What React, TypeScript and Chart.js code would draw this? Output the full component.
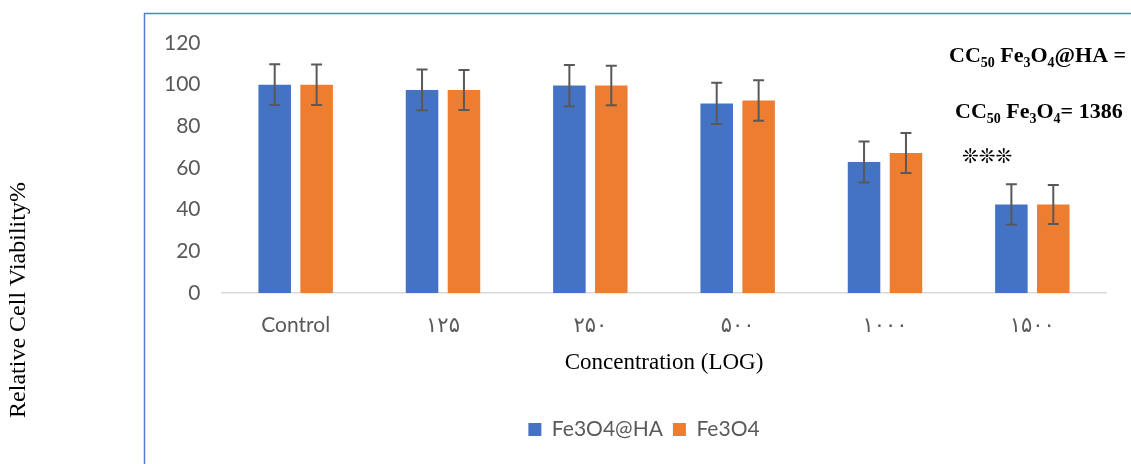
import React, { useEffect, useRef } from "react";
import { Chart, registerables } from "chart.js";

Chart.register(...registerables);

const categories = ["Control", "۱۲۵", "۲۵۰", "۵۰۰", "۱۰۰۰", "۱۵۰۰"];
const seriesNames = ["Fe3O4@HA", "Fe3O4"];
const fe3o4HA = [100, 97.5, 99.6, 91.0, 62.9, 42.5];
const fe3o4HAErr = [9.8, 9.8, 9.9, 9.9, 9.8, 9.7];
const fe3o4 = [100, 97.4, 99.6, 92.4, 67.2, 42.5];
const fe3o4Err = [9.7, 9.6, 9.5, 9.7, 9.6, 9.4];
const yMin = 0;
const yMax = 120;
const yStep = 20;
const xTitle = "Concentration (LOG)";
const yTitle = "Relative Cell Viability%";
const note1: [string, boolean][] = [["CC", false], ["50", true], [" Fe", false], ["3", true], ["O", false], ["4", true], ["@HA =", false]];
const note2: [string, boolean][] = [["CC", false], ["50", true], [" Fe", false], ["3", true], ["O", false], ["4", true], ["= 1386", false]];
const note3 = "❊❊❊";

const colors = ["#4472C4", "#ED7D31"];
const errors = [fe3o4HAErr, fe3o4Err];
const GRAY = "#595959";
const SANS = "Lato, 'DejaVu Sans', sans-serif";
const SERIF = "'Liberation Serif', 'Times New Roman', serif";

function drawRuns(ctx: CanvasRenderingContext2D, runs: [string, boolean][], x: number, y: number) {
  let cx = x;
  for (const [t, sub] of runs) {
    ctx.font = sub ? `bold 14px ${SERIF}` : `bold 22px ${SERIF}`;
    ctx.fillText(t, cx, sub ? y + 5 : y);
    cx += ctx.measureText(t).width;
  }
}

const decorPlugin = {
  id: "decor",
  beforeDraw(chart: any) {
    const ctx = chart.ctx;
    ctx.save();
    ctx.strokeStyle = "#4F7FD1";
    ctx.lineWidth = 1.5;
    ctx.strokeRect(144.5, 13.5, 2000, 2000);
    ctx.restore();
  },
  afterDatasetsDraw(chart: any) {
    const ctx = chart.ctx;
    const yScale = chart.scales.y;
    ctx.save();
    ctx.strokeStyle = GRAY;
    ctx.lineWidth = 2;
    chart.data.datasets.forEach((ds: any, i: number) => {
      const meta = chart.getDatasetMeta(i);
      meta.data.forEach((el: any, j: number) => {
        const v = ds.data[j];
        const e = errors[i][j];
        const x = el.x;
        const yt = yScale.getPixelForValue(v + e);
        const yb = yScale.getPixelForValue(v - e);
        ctx.beginPath();
        ctx.moveTo(x, yt);
        ctx.lineTo(x, yb);
        ctx.moveTo(x - 5.5, yt);
        ctx.lineTo(x + 5.5, yt);
        ctx.moveTo(x - 5.5, yb);
        ctx.lineTo(x + 5.5, yb);
        ctx.stroke();
      });
    });
    ctx.restore();
  },
  afterDraw(chart: any) {
    const ctx = chart.ctx;
    ctx.save();
    ctx.fillStyle = "#000";
    ctx.textBaseline = "alphabetic";
    ctx.textAlign = "left";
    drawRuns(ctx, note1, 949, 62);
    drawRuns(ctx, note2, 955, 118);
    ctx.font = `20px 'DejaVu Sans', sans-serif`;
    ctx.textBaseline = "middle";
    ctx.fillText(note3, 962, 158);
    // y title
    ctx.translate(19, 300);
    ctx.rotate(-Math.PI / 2);
    ctx.textAlign = "center";
    ctx.textBaseline = "middle";
    ctx.font = `24px ${SERIF}`;
    ctx.fillText(yTitle, 0, 0);
    ctx.restore();
  },
};

export default function App() {
  const ref = useRef<HTMLCanvasElement>(null);
  useEffect(() => {
    if (!ref.current) return;
    const chart = new Chart(ref.current, {
      type: "bar",
      data: {
        labels: categories,
        datasets: [
          { label: seriesNames[0], data: fe3o4HA, backgroundColor: colors[0], categoryPercentage: 0.569, barPercentage: 0.776 },
          { label: seriesNames[1], data: fe3o4, backgroundColor: colors[1], categoryPercentage: 0.569, barPercentage: 0.776 },
        ],
      },
      options: {
        responsive: false,
        animation: false,
        layout: { padding: { left: 182, right: 25, top: 43, bottom: 14 } },
        plugins: {
          legend: {
            position: "bottom",
            labels: {
              boxWidth: 13,
              boxHeight: 13,
              padding: 10,
              color: GRAY,
              font: { family: SANS, size: 21 },
            },
          },
          tooltip: { enabled: false },
        },
        scales: {
          x: {
            grid: { display: false, drawTicks: false },
            border: { display: true, color: "#D9D9D9", width: 1.5 },
            ticks: { color: GRAY, padding: 20, font: { family: SANS, size: 21 } },
            title: {
              display: true,
              text: xTitle,
              color: "#000",
              font: { family: SERIF, size: 23 },
              padding: { top: 0, bottom: 32 },
            },
            afterFit: (s: any) => { s.height = 116; },
          },
          y: {
            min: yMin,
            max: yMax,
            grid: { display: false, drawTicks: false },
            border: { display: false },
            ticks: {
              stepSize: yStep,
              color: GRAY,
              mirror: true,
              crossAlign: "far",
              padding: -58,
              font: { family: SANS, size: 21 },
            },
            afterFit: (s: any) => { s.width = 40; },
          },
        },
      },
      plugins: [decorPlugin],
    });
    return () => chart.destroy();
  }, []);
  return (
    <div style={{ position: "fixed", left: 0, top: 0, width: 1131, height: 464, background: "#fff" }}>
      <canvas ref={ref} width={1131} height={464} style={{ display: "block" }} />
    </div>
  );
}
